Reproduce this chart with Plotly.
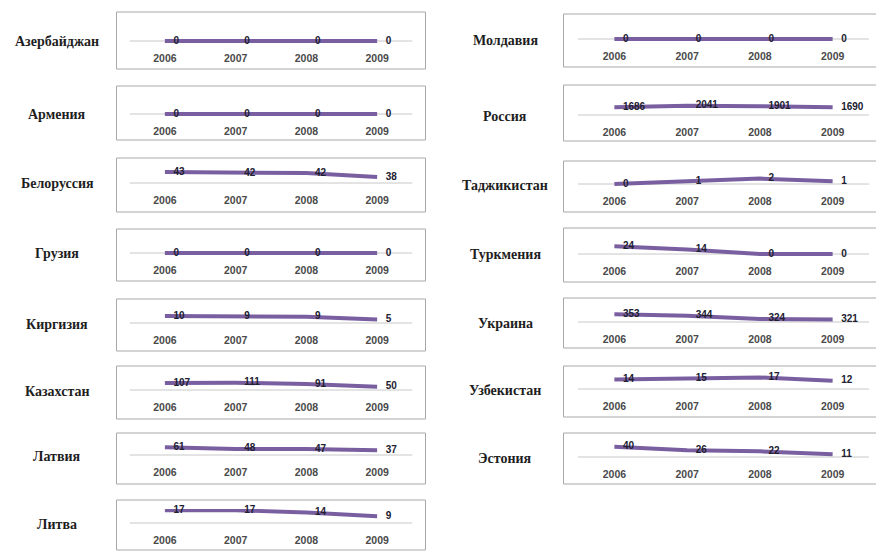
import plotly.graph_objects as go

# ---- data -------------------------------------------------------------
years = ["2006", "2007", "2008", "2009"]

left_countries = ["Азербайджан", "Армения", "Белоруссия", "Грузия",
                  "Киргизия", "Казахстан", "Латвия", "Литва"]
right_countries = ["Молдавия", "Россия", "Таджикистан", "Туркмения",
                   "Украина", "Узбекистан", "Эстония"]

azerbaijan = [0, 0, 0, 0]
armenia = [0, 0, 0, 0]
belarus = [43, 42, 42, 38]
georgia = [0, 0, 0, 0]
kyrgyzstan = [10, 9, 9, 5]
kazakhstan = [107, 111, 91, 50]
latvia = [61, 48, 47, 37]
lithuania = [17, 17, 14, 9]
moldova = [0, 0, 0, 0]
russia = [1686, 2041, 1901, 1690]
tajikistan = [0, 1, 2, 1]
turkmenistan = [24, 14, 0, 0]
ukraine = [353, 344, 324, 321]
uzbekistan = [14, 15, 17, 12]
estonia = [40, 26, 22, 11]

left_values = [azerbaijan, armenia, belarus, georgia,
               kyrgyzstan, kazakhstan, latvia, lithuania]
right_values = [moldova, russia, tajikistan, turkmenistan,
                ukraine, uzbekistan, estonia]

# ---- per-panel value scale: (axis minimum, value reached 14 px above it)
left_scale = [(0, 1), (0, 1), (32, 46), (0, 1),
              (0, 20), (0, 215), (0, 111), (0, 18.7)]
right_scale = [(0, 1), (0, 3050), (0, 5.2), (0, 44),
               (305, 392), (0, 20.6), (0, 54)]

# ---- geometry (pixels) ------------------------------------------------
W, H = 876, 551
left_rows = [(12, 41, 69), (86, 114, 140), (158, 183, 212), (229, 253, 281),
             (299, 323, 351), (366, 390, 419), (433, 455, 484), (500, 523, 550)]
right_rows = [(14, 39, 67), (85, 115, 141), (161, 184, 212), (228, 254, 282),
              (298, 322, 348), (366, 389, 417), (433, 457, 484)]

LEFT = dict(box=(116.5, 425.5), axis=(129.5, 412.5), label_x=57)
RIGHT = dict(box=(563.5, 890), axis=(578, 869), label_x=505)

LINE_COLOR = "#7a5fa0"
AXIS_COLOR = "#c8c8c8"
BOX_COLOR = "#a8a8a8"
BELOW, ABOVE = 6, 14
SERIF = "Liberation Serif"
SANS = "Liberation Sans"


def px_x(v):
    return v / W


def px_y(v):
    return 1 - v / H


fig = go.Figure()
layout = {}
shapes = []
annotations = []

panels = []
for name, vals, sc, row in zip(left_countries, left_values, left_scale, left_rows):
    panels.append((name, vals, sc, row, LEFT))
for name, vals, sc, row in zip(right_countries, right_values, right_scale, right_rows):
    panels.append((name, vals, sc, row, RIGHT))

for i, (name, vals, (ymin, ytop), (top, axis_y, bottom), col) in enumerate(panels, start=1):
    xa = "x" if i == 1 else f"x{i}"
    ya = "y" if i == 1 else f"y{i}"
    xkey = "xaxis" if i == 1 else f"xaxis{i}"
    ykey = "yaxis" if i == 1 else f"yaxis{i}"

    span = ytop - ymin
    yrange = [ymin - span * BELOW / ABOVE, ytop]

    layout[xkey] = dict(
        domain=[px_x(col["axis"][0]), px_x(col["axis"][1])],
        anchor=ya, type="category", range=[-0.5, 3.5],
        showgrid=False, zeroline=False, showline=False,
        ticks="outside", ticklen=1, tickcolor="rgba(0,0,0,0)",
        tickvals=years, ticktext=years,
        tickfont=dict(family=SANS, size=10.5, color="#4a4a4a", weight="bold"),
        fixedrange=True,
    )
    layout[ykey] = dict(
        domain=[px_y(axis_y + BELOW), px_y(axis_y - ABOVE)],
        anchor=xa, range=yrange, visible=False, fixedrange=True,
    )

    # panel frame
    shapes.append(dict(type="rect", xref="paper", yref="paper",
                       x0=px_x(col["box"][0]), x1=px_x(col["box"][1]),
                       y0=px_y(bottom), y1=px_y(top),
                       line=dict(color=BOX_COLOR, width=1), layer="below"))
    # category axis line at the axis minimum
    shapes.append(dict(type="line", xref=xa, yref=ya,
                       x0=-0.5, x1=3.5, y0=ymin, y1=ymin,
                       line=dict(color=AXIS_COLOR, width=1), layer="below"))

    fig.add_trace(go.Scatter(
        x=years, y=vals, xaxis=xa, yaxis=ya,
        mode="lines+markers+text",
        line=dict(color=LINE_COLOR, width=4),
        marker=dict(size=12, color="rgba(0,0,0,0)"),
        text=[str(v) for v in vals],
        textposition="middle right",
        textfont=dict(family=SANS, size=10, color="#202030", weight="bold"),
        cliponaxis=False, hoverinfo="skip", showlegend=False,
    ))

    annotations.append(dict(
        x=px_x(col["label_x"]), y=px_y(axis_y + 1), xref="paper", yref="paper",
        text=name, showarrow=False, xanchor="center", yanchor="middle",
        font=dict(family=SERIF, size=14, color="#1e1e1e", weight="bold"),
    ))

fig.update_layout(
    width=W, height=H,
    margin=dict(l=0, r=0, t=0, b=0),
    paper_bgcolor="white", plot_bgcolor="rgba(0,0,0,0)",
    shapes=shapes, annotations=annotations,
    **layout,
)

fig.write_html("out.html", config=dict(displayModeBar=False))
